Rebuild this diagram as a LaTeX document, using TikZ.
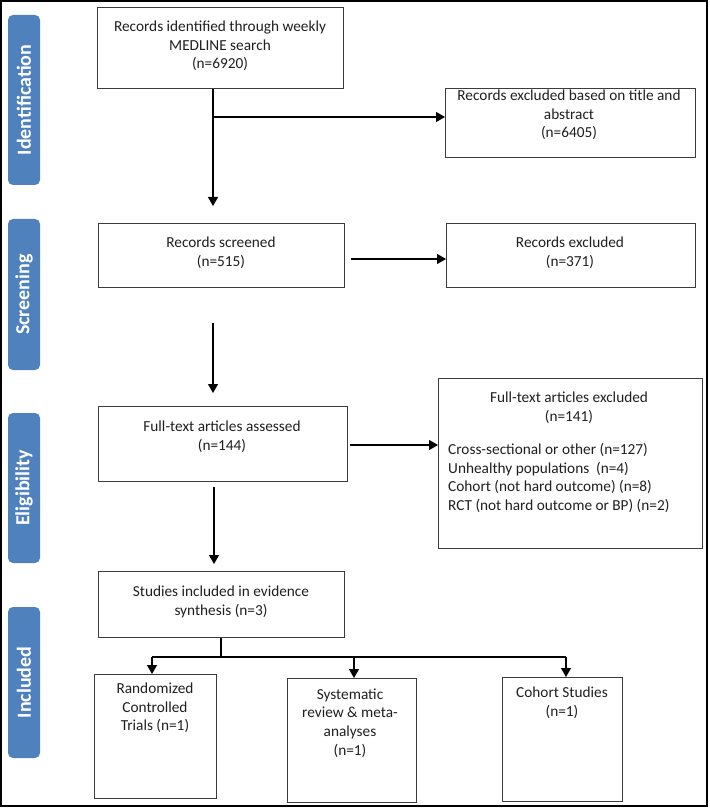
\documentclass[tikz,border=0pt]{standalone}
\usepackage{fontspec}
\setmainfont{Carlito}
\usetikzlibrary{arrows.meta}
\definecolor{phase}{RGB}{79,129,189}
\definecolor{boxline}{RGB}{60,60,60}
\begin{document}
\begin{tikzpicture}[x=1pt,y=-1pt,
  box/.style={draw=boxline, line width=1.1pt, anchor=north west, inner sep=0pt},
  txt/.style={font=\fontsize{15.3}{18.7}\selectfont, align=center, inner sep=0pt, text=black!88},
  phasebox/.style={fill=phase, rounded corners=5pt, inner sep=0pt, minimum width=32},
  phasetext/.style={text=white, inner sep=0pt, rotate=90, font=\fontsize{20}{21}\selectfont\bfseries},
  arr/.style={line width=1.2pt, -{Triangle[width=10pt,length=9pt]}},
  ln/.style={line width=1.2pt}]

\path[use as bounding box] (0,0) rectangle (709,810);
\draw[line width=2pt] (1,1) rectangle (707,806);

% phase labels
\node[phasebox, minimum height=170] (p1) at (24,100) {};
\node[phasetext] (p1t) at (p1) {Identification};
\node[phasebox, minimum height=151] (p2) at (24,294.5) {};
\node[phasetext] (p2t) at (p2) {Screening};
\node[phasebox, minimum height=150] (p3) at (24,488) {};
\node[phasetext] (p3t) at (p3) {Eligibility};
\node[phasebox, minimum height=151] (p4) at (24,682.5) {};
\node[phasetext] (p4t) at (p4) {Included};

% boxes
\node[box, minimum width=246, minimum height=81] (idb) at (97,7) {};
\node[box, minimum width=250, minimum height=69] (ex1) at (445,88) {};
\node[box, minimum width=246, minimum height=64] (rs) at (98,223) {};
\node[box, minimum width=249, minimum height=64] (rex) at (446,223) {};
\node[box, minimum width=249, minimum height=75] (ft) at (98,406) {};
\node[box, minimum width=264, minimum height=170] (ex2) at (438,378) {};
\node[box, minimum width=246, minimum height=66] (st) at (98,571) {};
\node[box, minimum width=122, minimum height=124] (rct) at (94,674) {};
\node[box, minimum width=129, minimum height=124] (sr) at (287,678) {};
\node[box, minimum width=120, minimum height=124] (cs) at (502,677) {};

% texts
\node[txt] (idt) at (220,46) {Records identified through weekly\\MEDLINE search\\(n=6920)};
\node[txt] (ex1t) at (569,115) {Records excluded based on title and\\abstract\\(n=6405)};
\node[txt] (rst) at (221,253) {Records screened\\(n=515)};
\node[txt] (rext) at (570,253) {Records excluded\\(n=371)};
\node[txt] (ftt) at (222,436.5) {Full-text articles assessed\\(n=144)};
\node[txt] (ex2h) at (569,408) {Full-text articles excluded\\(n=141)};
\node[txt, align=left, anchor=west] (ex2l) at (448,478) {Cross-sectional or other (n=127)\\Unhealthy populations\ \ (n=4)\\Cohort (not hard outcome) (n=8)\\RCT (not hard outcome or BP) (n=2)};
\node[txt] (stt) at (221,602) {Studies included in evidence\\synthesis (n=3)};
\node[txt] (rctt) at (155,708) {Randomized\\Controlled\\Trials (n=1)};
\node[txt] (srt) at (350,723) {Systematic\\review \& meta-\\analyses\\(n=1)};
\node[txt] (cst) at (562,702.5) {Cohort Studies\\(n=1)};

% connectors
\coordinate (c1) at (213,117);
\coordinate (c1e) at (213,206);
\draw[arr] (idb.south -| c1) -- (c1e);
\draw[arr] (c1) -- (c1 -| ex1.west);
\coordinate (c2) at (351,259);
\draw[arr] (c2) -- (c2 -| rex.west);
\coordinate (c3s) at (213,323);
\coordinate (c3e) at (213,393);
\draw[arr] (c3s) -- (c3e);
\coordinate (c4) at (350,445);
\draw[arr] (c4) -- (c4 -| ex2.west);
\coordinate (c5s) at (214,487);
\coordinate (c5e) at (214,564);
\draw[arr] (c5s) -- (c5e);
\coordinate (c6) at (221,657);
\draw[ln] (st.south -| c6) -- (c6);
\coordinate (j1) at (152,657);
\coordinate (j2) at (354,657);
\coordinate (j3) at (566,657);
\draw[ln] (j1) -- (j3);
\draw[arr] (j1) -- (j1 |- rct.north);
\draw[arr] (j2) -- (j2 |- sr.north);
\draw[arr] (j3) -- (j3 |- cs.north);
\end{tikzpicture}
\end{document}
